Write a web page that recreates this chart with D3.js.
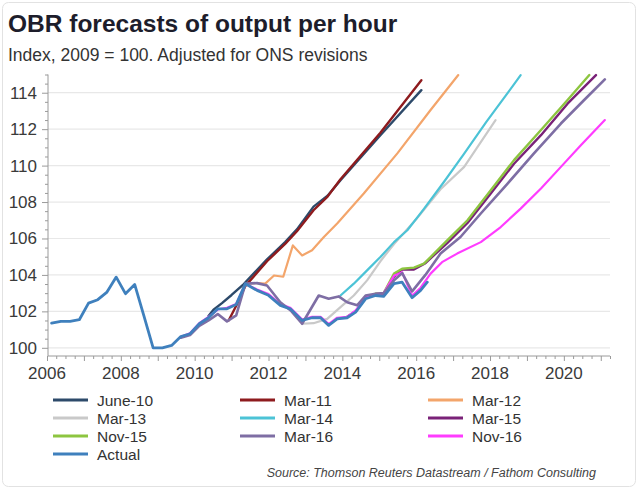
<!DOCTYPE html>
<html>
<head>
<meta charset="utf-8">
<script src="https://cdn.jsdelivr.net/npm/d3@7"></script>
<style>
  html, body { margin: 0; padding: 0; background: #fff; }
  svg { display: block; font-family: "Liberation Sans", Arial, sans-serif; }
</style>
</head>
<body>
<svg id="chart" width="640" height="489"></svg>
<script>
// ---------- DATA ----------
const title = "OBR forecasts of output per hour";
const subtitle = "Index, 2009 = 100. Adjusted for ONS revisions";
const source = "Source: Thomson Reuters Datastream / Fathom Consulting";

const xTickLabels = [2006, 2008, 2010, 2012, 2014, 2016, 2018, 2020];
const yTickLabels = [100, 102, 104, 106, 108, 110, 112, 114];

const seriesNames = ["June-10", "Mar-11", "Mar-12", "Mar-13", "Mar-14", "Mar-15", "Nov-15", "Mar-16", "Nov-16", "Actual"];

// [year, index value]
const june10 = [[2010.375,101.75],[2010.51,102.09],[2010.74,102.45],[2011.0,102.9],[2011.33,103.5],[2011.96,104.85],[2012.45,105.8],[2012.77,106.5],[2013.22,107.75],[2013.6,108.35],[2013.95,109.2],[2015.03,111.67],[2016.14,114.14]];
const mar11 = [[2010.92,101.5],[2011.15,102.4],[2011.375,103.4],[2011.96,104.75],[2012.45,105.7],[2012.77,106.4],[2013.22,107.55],[2013.6,108.3],[2013.95,109.25],[2015.03,111.8],[2016.14,114.69]];
const mar12 = [[2011.375,103.52],[2011.69,103.55],[2011.91,103.52],[2012.15,103.97],[2012.4,103.9],[2012.66,105.62],[2012.91,105.07],[2013.18,105.35],[2013.5,106.08],[2013.86,106.82],[2014.58,108.47],[2015.49,110.67],[2016.39,113.05],[2017.14,114.97]];
const mar13 = [[2012.91,101.32],[2013.22,101.35],[2013.59,101.59],[2013.95,102.23],[2014.31,102.87],[2014.67,103.7],[2015.03,104.75],[2015.4,105.7],[2016.0,107.05],[2016.66,108.7],[2017.3,109.93],[2018.15,112.5]];
const mar14 = [[2013.95,102.87],[2014.31,103.52],[2014.67,104.25],[2015.03,104.98],[2015.4,105.8],[2015.76,106.45],[2016.2,107.6],[2016.75,109.1],[2017.3,110.66],[2017.9,112.4],[2018.47,113.96],[2018.83,114.97]];
const mar15 = [[2014.13,101.7],[2014.36,102.0],[2014.63,102.75],[2014.9,102.95],[2015.12,102.95],[2015.4,103.9],[2015.62,104.3],[2015.94,104.3],[2016.25,104.65],[2016.84,105.75],[2017.39,106.85],[2018.02,108.47],[2018.65,110.1],[2019.38,111.67],[2020.1,113.4],[2020.87,114.97]];
const nov15 = [[2014.9,102.97],[2015.12,103.0],[2015.4,104.07],[2015.62,104.34],[2015.94,104.4],[2016.21,104.62],[2016.39,104.98],[2016.84,105.9],[2017.39,107.0],[2018.02,108.65],[2018.65,110.3],[2019.38,111.95],[2020.1,113.6],[2020.69,114.97]];
const mar16 = [[2009.625,100.55],[2009.875,100.7],[2010.125,101.2],[2010.375,101.5],[2010.625,101.85],[2010.875,101.45],[2011.125,101.78],[2011.375,103.52],[2011.69,103.55],[2011.96,103.42],[2012.32,102.5],[2012.6,102.05],[2012.91,101.32],[2013.36,102.87],[2013.63,102.69],[2013.9,102.82],[2014.13,102.5],[2014.4,102.33],[2014.63,102.87],[2014.9,102.97],[2015.12,103.0],[2015.4,103.7],[2015.62,104.1],[2015.89,103.1],[2016.25,104.0],[2016.66,105.17],[2017.2,106.08],[2017.75,107.37],[2018.47,109.0],[2019.19,110.67],[2019.92,112.31],[2020.55,113.6],[2021.11,114.73]];
const nov16 = [[2009.625,100.6],[2009.875,100.8],[2010.125,101.35],[2010.375,101.7],[2010.625,102.1],[2010.875,102.2],[2011.125,102.4],[2011.375,103.5],[2011.69,103.2],[2012.0,102.95],[2012.32,102.4],[2012.59,102.2],[2012.91,101.55],[2013.18,101.7],[2013.41,101.7],[2013.63,101.3],[2013.86,101.65],[2014.13,101.7],[2014.36,102.05],[2014.63,102.75],[2014.9,102.95],[2015.12,103.0],[2015.4,103.95],[2015.62,104.15],[2015.89,102.85],[2016.12,103.3],[2016.39,104.07],[2016.7,104.7],[2017.11,105.17],[2017.75,105.8],[2018.29,106.63],[2018.83,107.64],[2019.38,108.74],[2019.92,109.93],[2020.46,111.12],[2021.11,112.5]];
const actual = [[2006.125,101.35],[2006.375,101.45],[2006.625,101.45],[2006.875,101.54],[2007.125,102.45],[2007.375,102.64],[2007.625,103.06],[2007.875,103.88],[2008.125,102.97],[2008.375,103.48],[2008.625,101.75],[2008.875,100.0],[2009.125,100.0],[2009.375,100.13],[2009.625,100.62],[2009.875,100.77],[2010.125,101.32],[2010.375,101.65],[2010.625,102.14],[2010.875,102.14],[2011.125,102.38],[2011.375,103.52],[2011.69,103.15],[2012.0,102.88],[2012.32,102.33],[2012.59,102.14],[2012.91,101.5],[2013.18,101.65],[2013.41,101.65],[2013.63,101.23],[2013.86,101.59],[2014.13,101.65],[2014.36,101.96],[2014.63,102.69],[2014.9,102.87],[2015.12,102.82],[2015.4,103.52],[2015.62,103.6],[2015.89,102.75],[2016.12,103.15],[2016.3,103.6]];

const seriesData = [june10, mar11, mar12, mar13, mar14, mar15, nov15, mar16, nov16, actual];
const seriesColors = ["#2d4a6a", "#8e1b1e", "#f3a56b", "#c9c9c9", "#4cc3d6", "#7a2278", "#8dc540", "#7e6ea4", "#ff3cff", "#3f80bd"];
const seriesWidths = [2.4, 2.4, 2.2, 2.2, 2.2, 2.4, 2.4, 2.6, 2.2, 2.8];

// ---------- LAYOUT ----------
const svg = d3.select("#chart");
const plot = { left: 48, right: 610, top: 74.5, bottom: 356 };

const x = d3.scaleLinear().domain([2006, 2021.25]).range([plot.left - 1, plot.right]);
const y = d3.scaleLinear().domain([99.55, 115]).range([plot.bottom, plot.top]);

// outer frame
svg.append("rect").attr("x", 2.5).attr("y", 2.5).attr("width", 633).attr("height", 484)
  .attr("rx", 6).attr("fill", "none").attr("stroke", "#e2e2e2").attr("stroke-width", 1);

// title / subtitle
svg.append("text").attr("x", 8).attr("y", 32).text(title)
  .attr("font-size", 24.5).attr("font-weight", "bold").attr("fill", "#1d1d2b");
svg.append("text").attr("x", 8).attr("y", 61).text(subtitle)
  .attr("font-size", 17.5).attr("fill", "#333");

// gridlines
svg.append("g").selectAll("line").data(yTickLabels).join("line")
  .attr("x1", plot.left).attr("x2", plot.right)
  .attr("y1", d => y(d)).attr("y2", d => y(d))
  .attr("stroke", "#e8e8e8").attr("stroke-width", 1.2);

// y axis
const yMinor = d3.range(100, 115.01, 0.5).filter(v => v % 2 !== 0);
const yAxisMajor = d3.axisLeft(y).tickValues(yTickLabels).tickSize(6).tickPadding(5).tickFormat(d3.format("d"));
const gy = svg.append("g").attr("transform", `translate(${plot.left},0)`).call(yAxisMajor);
gy.select(".domain").attr("stroke", "#9a9a9a").attr("d", `M0,${plot.bottom}V${plot.top}`);
gy.selectAll(".tick line").attr("stroke", "#9a9a9a");
gy.selectAll(".tick text").attr("font-size", 17).attr("fill", "#3a3a3a").attr("font-family", "Liberation Sans, Arial, sans-serif");
svg.append("g").attr("transform", `translate(${plot.left},0)`)
  .call(d3.axisLeft(y).tickValues(yMinor).tickSize(3).tickFormat(""))
  .call(g => g.select(".domain").remove())
  .selectAll("line").attr("stroke", "#9a9a9a");

// x axis
const xQuarters = d3.range(2006, 2021.26, 0.25).filter(v => !Number.isInteger(v));
const xYears = d3.range(2006, 2022, 1);
const gx = svg.append("g").attr("transform", `translate(0,${plot.bottom})`)
  .call(d3.axisBottom(x).tickValues(xYears).tickSize(5).tickFormat(""));
gx.select(".domain").attr("stroke", "#9a9a9a").attr("d", `M${plot.left},0H${plot.right}`);
gx.selectAll(".tick line").attr("stroke", "#9a9a9a");
svg.append("g").attr("transform", `translate(0,${plot.bottom})`)
  .call(d3.axisBottom(x).tickValues(xQuarters).tickSize(3).tickFormat(""))
  .call(g => g.select(".domain").remove())
  .selectAll("line").attr("stroke", "#9a9a9a");
svg.append("g").selectAll("text").data(xTickLabels).join("text")
  .attr("x", d => x(d)).attr("y", 379).attr("text-anchor", "middle")
  .attr("font-size", 17).attr("fill", "#3a3a3a").text(d => d);

// lines
svg.append("defs").append("clipPath").attr("id", "clip")
  .append("rect").attr("x", plot.left).attr("y", plot.top - 2)
  .attr("width", plot.right - plot.left + 2).attr("height", plot.bottom - plot.top + 2);

const line = d3.line().x(d => x(d[0])).y(d => y(d[1]));
const gLines = svg.append("g").attr("clip-path", "url(#clip)");
// draw order: forecasts first, Mar-16 / Nov-16 histories, then actual on top
const order = [3, 2, 4, 0, 1, 5, 6, 8, 7, 9];
order.forEach(i => {
  gLines.append("path").datum(seriesData[i])
    .attr("d", line).attr("fill", "none")
    .attr("stroke", seriesColors[i]).attr("stroke-width", seriesWidths[i])
    .attr("stroke-linejoin", "round").attr("stroke-linecap", "round");
});

// legend
const legCols = [53, 240, 428];
const legRows = [400, 418, 436, 454];
const lg = svg.append("g");
seriesNames.forEach((name, i) => {
  const cx = legCols[i % 3], cy = legRows[Math.floor(i / 3)];
  lg.append("line").attr("x1", cx).attr("x2", cx + 35).attr("y1", cy).attr("y2", cy)
    .attr("stroke", seriesColors[i]).attr("stroke-width", 3);
  lg.append("text").attr("x", cx + 44).attr("y", cy + 5.5).text(name)
    .attr("font-size", 15.5).attr("fill", "#333");
});

// source
svg.append("text").attr("x", 596).attr("y", 477).attr("text-anchor", "end")
  .attr("font-size", 12.5).attr("font-style", "italic").attr("fill", "#444").text(source);
</script>
</body>
</html>
